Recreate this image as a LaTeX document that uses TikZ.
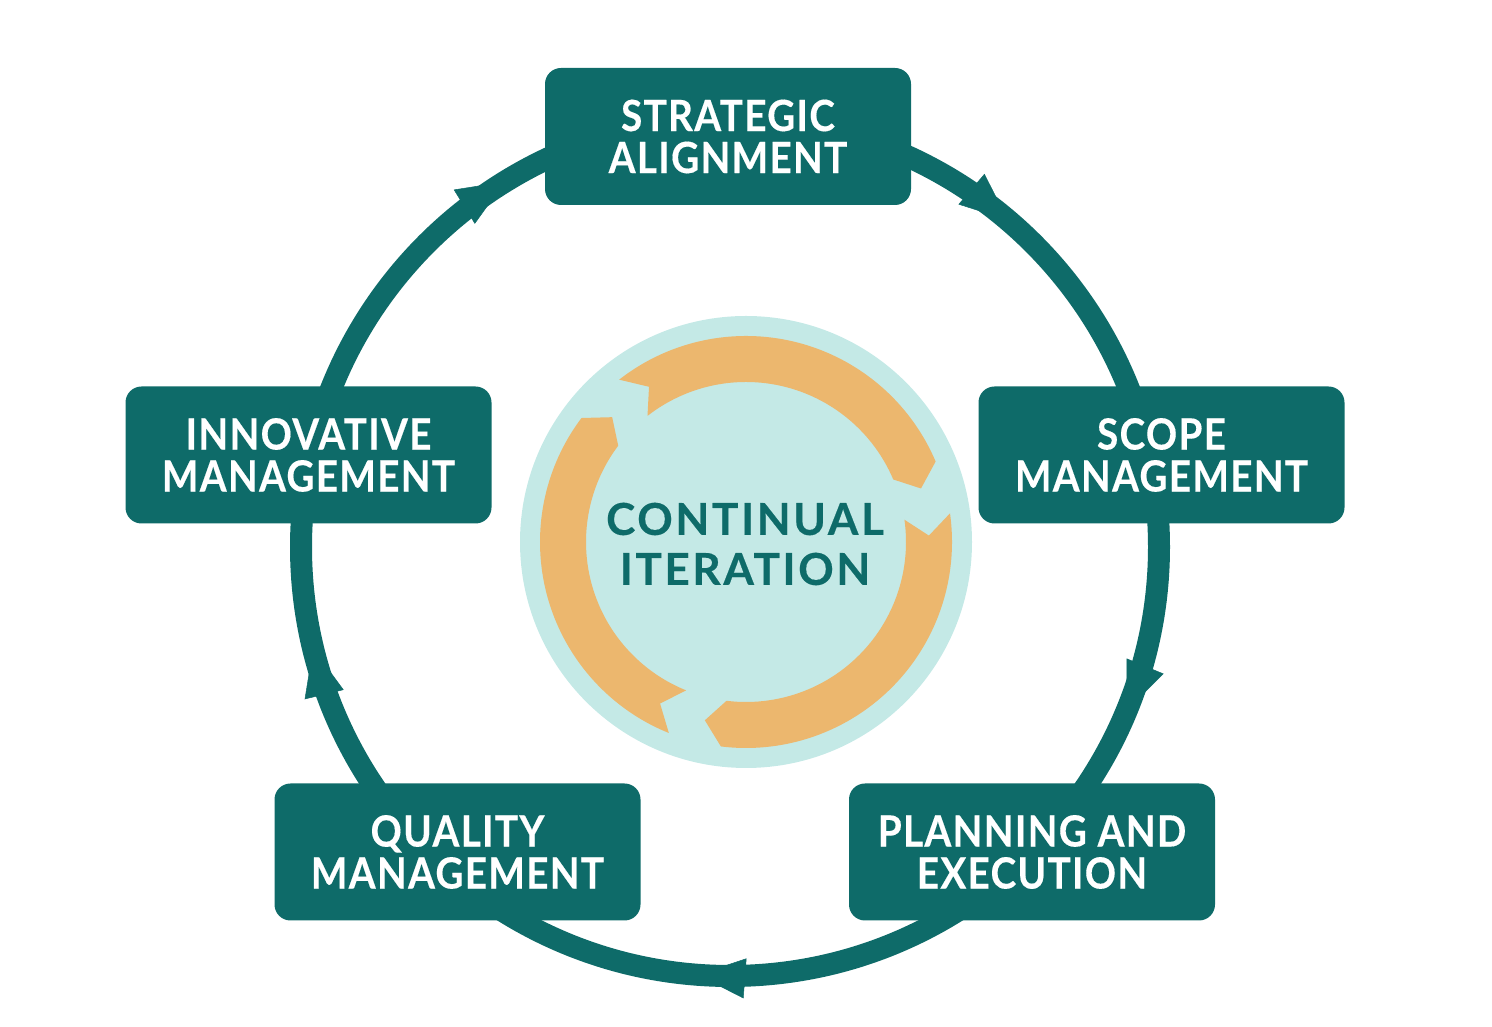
\documentclass[tikz,border=0pt]{standalone}
\usepackage{fontspec}
\setmainfont{Lato}
\newfontfamily\boxff{Lato}[FakeStretch=0.9, LetterSpace=3, FakeBold=0.3]
\newfontfamily\midff{Lato}[LetterSpace=6, FakeBold=0.4]
\usetikzlibrary{arrows.meta,decorations.markings}
\definecolor{tealdk}{RGB}{14,107,105}
\definecolor{lightaq}{RGB}{196,233,230}
\definecolor{orng}{RGB}{236,183,110}
\newcommand\boxfont{\boxff\fontsize{43}{42}\selectfont\bfseries}
\newcommand\midfont{\midff\fontsize{44}{50}\selectfont\bfseries}
\tikzset{
  box/.style={fill=tealdk, rounded corners=16pt, minimum width=366pt,
    minimum height=137pt, text=white, font=\boxfont, align=center, inner sep=0pt},
  ring/.style={draw=tealdk, line width=22pt},
  ringtip/.style={decoration={markings,
    mark=at position 0.0622 with {\arrow{Triangle[width=40pt,length=48pt,line width=0.5pt]}},
    mark=at position 0.2622 with {\arrow{Triangle[width=40pt,length=48pt,line width=0.5pt]}},
    mark=at position 0.4622 with {\arrow{Triangle[width=40pt,length=48pt,line width=0.5pt]}},
    mark=at position 0.6622 with {\arrow{Triangle[width=40pt,length=48pt,line width=0.5pt]}},
    mark=at position 0.8622 with {\arrow{Triangle[width=40pt,length=48pt,line width=0.5pt]}}},
    postaction={decorate}},
  midtext/.style={text=tealdk, font=\midfont, align=center, inner sep=0pt}
}
\begin{document}
\begin{tikzpicture}[x=1pt,y=1pt]
\useasboundingbox (0,0) rectangle (1492,1027);
\coordinate (C) at (730,480);
\coordinate (L) at (746,485);
% outer cycle ring
\draw[ring, ringtip] ([shift={(0:429)}]C) arc[start angle=0, end angle=-360, radius=429];
% inner circle
\fill[lightaq] (L) circle[radius=226];
% orange arrows
\foreach \t/\h in {128/23, 8/-97, -112/-217}{
  \fill[orng] ([shift={(\t:206)}]L) arc[start angle=\t, end angle=\h, radius=206]
    -- ([shift={(\h-6:183)}]L) -- ([shift={(\h:160)}]L)
    arc[start angle=\h, end angle=\t, radius=160]
    -- ([shift={(\t-6:183)}]L) -- cycle;
}
\node[midtext] (ci) at (745,483) {CONTINUAL\\ITERATION};
% boxes
\node[box] (sa) at (728,890.5) {STRATEGIC\\ALIGNMENT};
\node[box] (sm) at (1161.5,572) {SCOPE\\MANAGEMENT};
\node[box] (pe) at (1032,175) {PLANNING AND\\EXECUTION};
\node[box] (qm) at (457.5,175) {QUALITY\\MANAGEMENT};
\node[box] (im) at (308.5,572) {INNOVATIVE\\MANAGEMENT};
\end{tikzpicture}
\end{document}
